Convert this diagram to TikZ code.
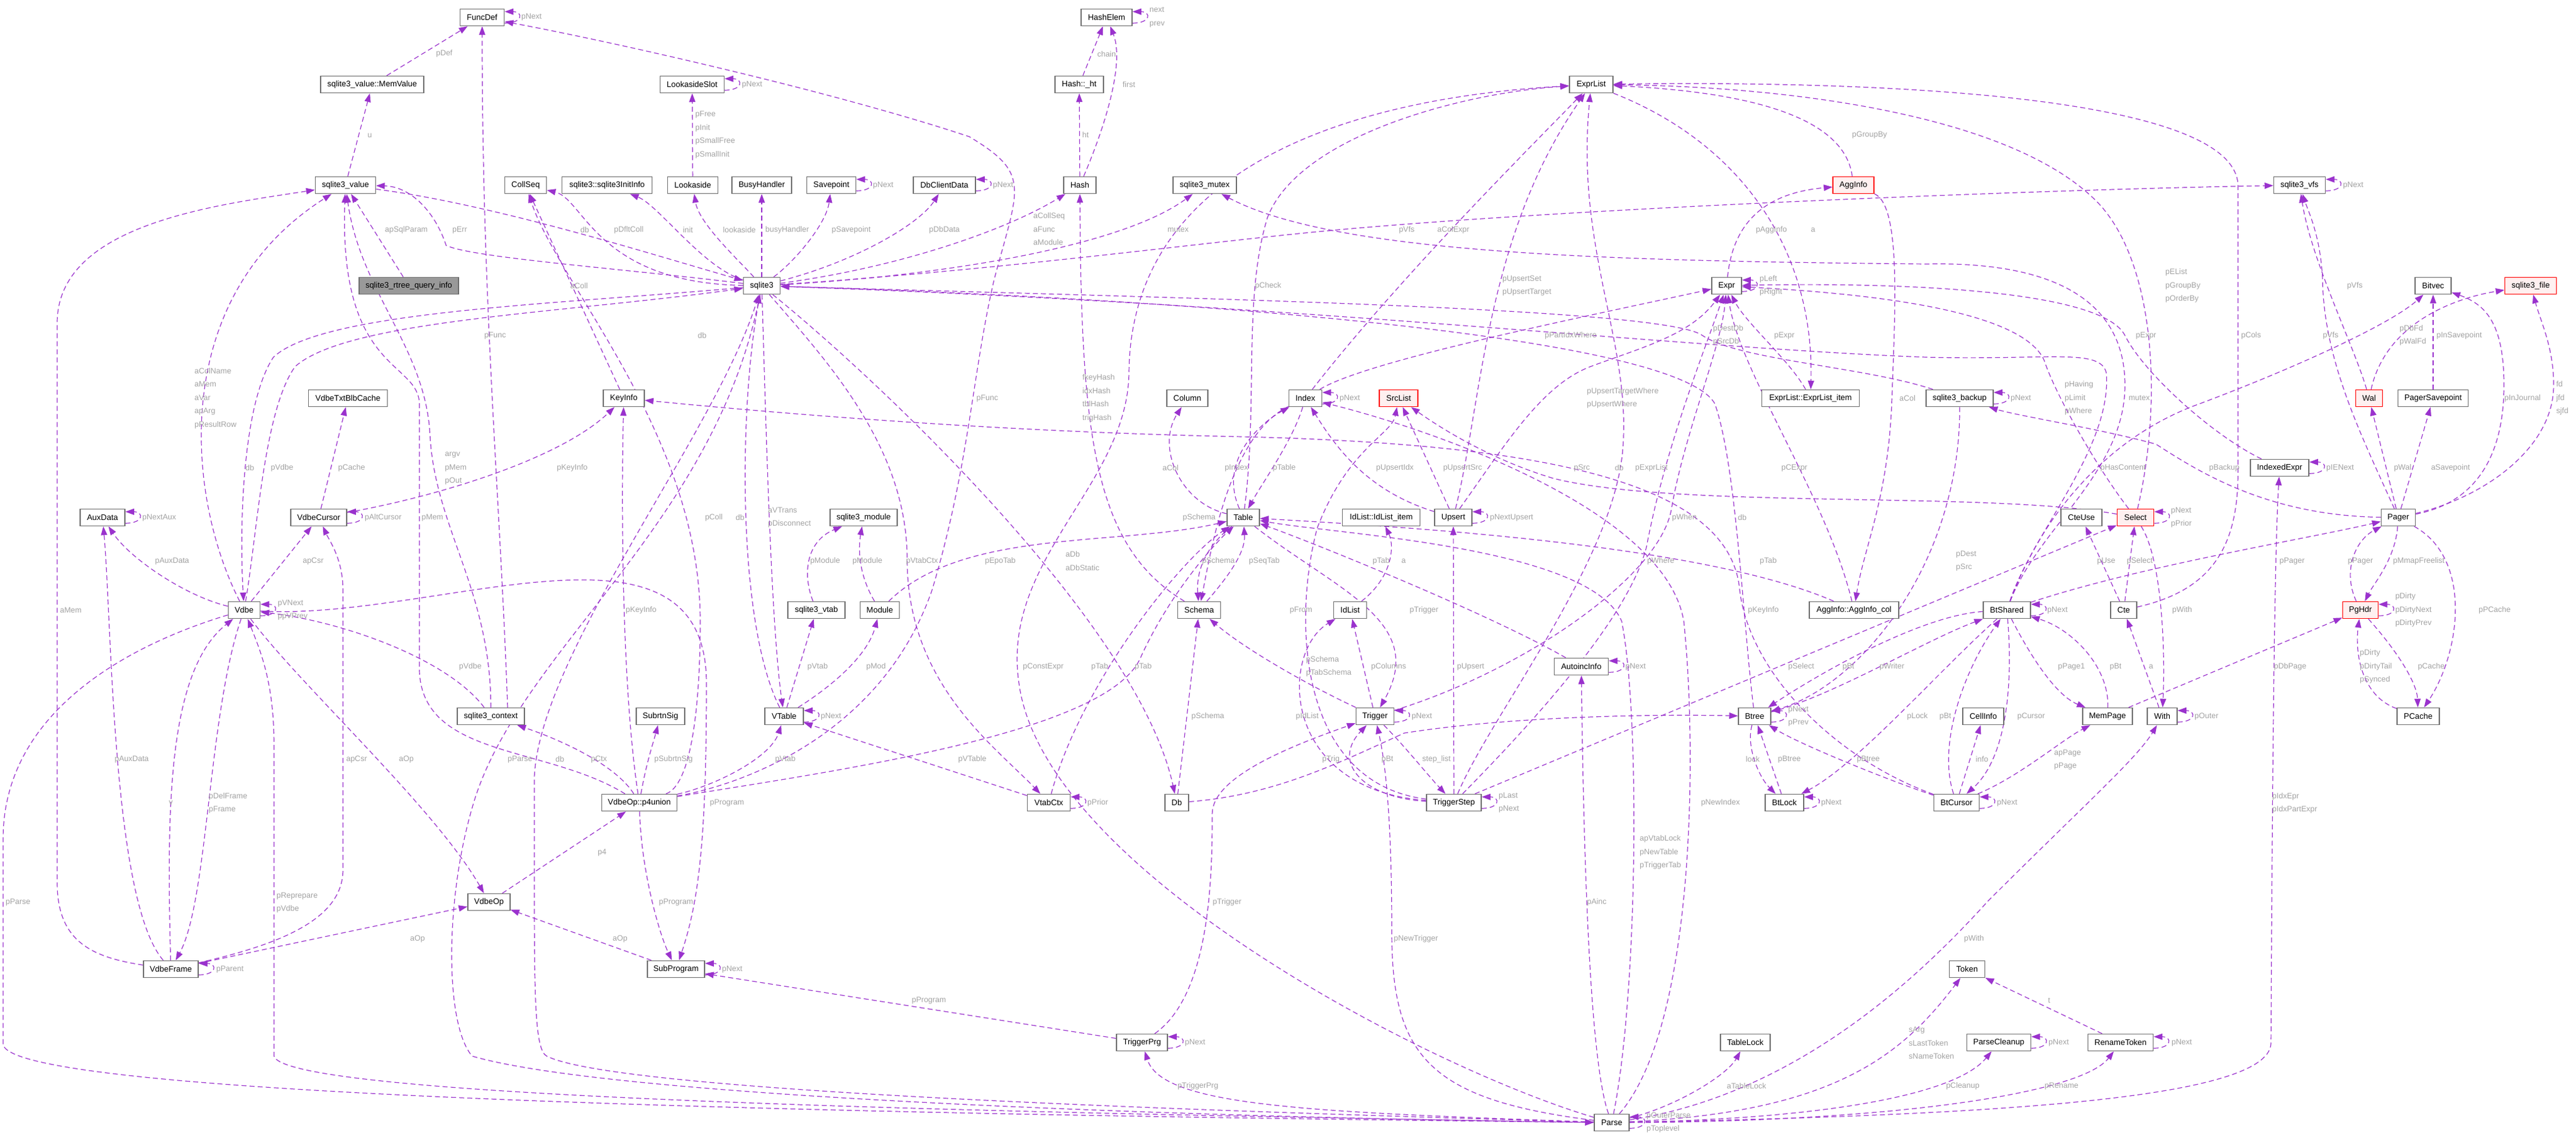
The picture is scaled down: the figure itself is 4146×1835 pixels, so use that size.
\documentclass[tikz,border=0pt]{standalone}
\usepackage{fontspec}
\setmainfont{Liberation Sans}
\usetikzlibrary{arrows.meta,calc}
\definecolor{edgec}{HTML}{9A32CD}
\definecolor{lblgray}{HTML}{A3A3A3}
\definecolor{boxgray}{HTML}{6E6E6E}
\definecolor{redfill}{HTML}{FFF0F0}
\definecolor{rootfill}{HTML}{999999}
\pgfdeclarelayer{bg}
\pgfdeclarelayer{edgelayer}
\pgfsetlayers{bg,edgelayer,main}
\tikzset{
 nbox/.style={draw=boxgray, line width=1.5pt, fill=white, minimum height=27pt, inner sep=0pt, font=\fontsize{13}{15}\selectfont, text=black},
 rbox/.style={nbox, draw=red, fill=redfill},
 cedge/.style={draw=edgec, line width=1.2pt, dash pattern=on 8pt off 5pt, -{Triangle[length=14pt,width=10pt]}},
 elbl/.style={text=lblgray, font=\fontsize{12.5}{21.5}\selectfont, inner sep=0pt, align=left},
}
\newcommand{\selfloop}[1]{\draw[cedge] ($(#1.south east)+(0,-5)$) .. controls +(30,0) and +(30,0) .. ($(#1.north east)+(0,5)$);}
\begin{document}
\begin{tikzpicture}[x=1pt,y=-1pt]
\useasboundingbox (0,0) rectangle (4146,1835);
\begin{pgfonlayer}{bg}\fill[white] (0,0) rectangle (4146,1835);\end{pgfonlayer}
% ---------------- nodes
\node[nbox, minimum width=71pt] (funcdef) at (776,28) {FuncDef};
\node[nbox, minimum width=166pt] (memvalue) at (599,136) {sqlite3\_value::MemValue};
\node[nbox, minimum width=97pt] (value) at (556,298) {sqlite3\_value};
\node[nbox, fill=rootfill, minimum width=160pt] (rtree) at (658,460) {sqlite3\_rtree\_query\_info};
\node[nbox, minimum width=67pt] (collseq) at (846,298) {CollSeq};
\node[nbox, minimum width=145pt] (initinfo) at (977,298) {sqlite3::sqlite3InitInfo};
\node[nbox, minimum width=82pt] (hashelem) at (1781,28) {HashElem};
\node[nbox, minimum width=103pt] (lookslot) at (1114,136) {LookasideSlot};
\node[nbox, minimum width=78pt] (ht) at (1737,136) {Hash::\_ht};
\node[nbox, minimum width=81pt] (lookaside) at (1115,298) {Lookaside};
\node[nbox, minimum width=96pt] (busy) at (1226,298) {BusyHandler};
\node[nbox, minimum width=79pt] (savepoint) at (1338,298) {Savepoint};
\node[nbox, minimum width=100pt] (dbclient) at (1520,298) {DbClientData};
\node[nbox, minimum width=52pt] (hash) at (1738,298) {Hash};
\node[nbox, minimum width=102pt] (mutex) at (1939,298) {sqlite3\_mutex};
\node[nbox, minimum width=59pt] (sqlite3) at (1226,460) {sqlite3};
\node[nbox, minimum width=70pt] (exprlist) at (2561,136) {ExprList};
\node[rbox, minimum width=66pt] (agginfo) at (2983,298) {AggInfo};
\node[nbox, minimum width=48pt] (expr) at (2779,460) {Expr};
\node[nbox, minimum width=83pt] (vfs) at (3701,298) {sqlite3\_vfs};
\node[nbox, minimum width=58pt] (bitvec) at (3916,460) {Bitvec};
\node[rbox, minimum width=83pt] (file) at (4073,460) {sqlite3\_file};
\node[nbox, minimum width=127pt] (txtblb) at (560,641) {VdbeTxtBlbCache};
\node[nbox, minimum width=66pt] (keyinfo) at (1004,641) {KeyInfo};
\node[nbox, minimum width=72pt] (auxdata) at (165,833) {AuxData};
\node[nbox, minimum width=90pt] (cursor) at (513,833) {VdbeCursor};
\node[nbox, minimum width=51pt] (vdbe) at (393,982) {Vdbe};
\node[nbox, minimum width=108pt] (context) at (790,1153) {sqlite3\_context};
\node[nbox, minimum width=66pt] (column) at (1911,641) {Column};
\node[nbox, minimum width=108pt] (module3) at (1390,833) {sqlite3\_module};
\node[nbox, minimum width=52pt] (table) at (2001,833) {Table};
\node[nbox, minimum width=92pt] (vtab) at (1314,982) {sqlite3\_vtab};
\node[nbox, minimum width=63pt] (module) at (1416,982) {Module};
\node[nbox, minimum width=69pt] (schema) at (1930,982) {Schema};
\node[nbox, minimum width=78pt] (subrtn) at (1063,1153) {SubrtnSig};
\node[nbox, minimum width=62pt] (vtable) at (1262,1153) {VTable};
\node[nbox, minimum width=53pt] (index) at (2101,641) {Index};
\node[rbox, minimum width=62pt] (srclist) at (2251,641) {SrcList};
\node[nbox, minimum width=157pt] (eitem) at (2914,641) {ExprList::ExprList\_item};
\node[nbox, minimum width=125pt] (iditem) at (2223,833) {IdList::IdList\_item};
\node[nbox, minimum width=60pt] (upsert) at (2339,833) {Upsert};
\node[nbox, minimum width=53pt] (idlist) at (2173,982) {IdList};
\node[nbox, minimum width=144pt] (aggcol) at (2984,982) {AggInfo::AggInfo\_col};
\node[nbox, minimum width=87pt] (autoinc) at (2545,1073) {AutoincInfo};
\node[nbox, minimum width=61pt] (trigger) at (2213,1153) {Trigger};
\node[nbox, minimum width=52pt] (btree) at (2824,1153) {Btree};
\node[nbox, minimum width=108pt] (backup) at (3154,641) {sqlite3\_backup};
\node[rbox, minimum width=43pt] (wal) at (3813,641) {Wal};
\node[nbox, minimum width=113pt] (pagersp) at (3916,641) {PagerSavepoint};
\node[nbox, minimum width=94pt] (idxexpr) at (3669,753) {IndexedExpr};
\node[nbox, minimum width=66pt] (cteuse) at (3350,833) {CteUse};
\node[rbox, minimum width=59pt] (select) at (3437,833) {Select};
\node[nbox, minimum width=55pt] (pager) at (3860,833) {Pager};
\node[nbox, minimum width=76pt] (btshared) at (3230,982) {BtShared};
\node[nbox, minimum width=42pt] (cte) at (3418,982) {Cte};
\node[rbox, minimum width=57pt] (pghdr) at (3799,982) {PgHdr};
\node[nbox, minimum width=66pt] (cellinfo) at (3192,1153) {CellInfo};
\node[nbox, minimum width=80pt] (mempage) at (3392,1153) {MemPage};
\node[nbox, minimum width=48pt] (with) at (3480,1153) {With};
\node[nbox, minimum width=68pt] (pcache) at (3892,1153) {PCache};
\node[nbox, minimum width=88pt] (vdbeframe) at (275,1560) {VdbeFrame};
\node[nbox, minimum width=68pt] (vdbeop) at (787,1452) {VdbeOp};
\node[nbox, minimum width=121pt] (p4union) at (1029,1292) {VdbeOp::p4union};
\node[nbox, minimum width=92pt] (subprog) at (1088,1560) {SubProgram};
\node[nbox, minimum width=69pt] (vtabctx) at (1688,1292) {VtabCtx};
\node[nbox, minimum width=38pt] (db) at (1894,1292) {Db};
\node[nbox, minimum width=82pt] (trigprg) at (1838,1678) {TriggerPrg};
\node[nbox, minimum width=88pt] (trigstep) at (2340,1292) {TriggerStep};
\node[nbox, minimum width=62pt] (btlock) at (2872,1292) {BtLock};
\node[nbox, minimum width=80pt] (tablelock) at (2809,1678) {TableLock};
\node[nbox, minimum width=56pt] (parse) at (2594,1807) {Parse};
\node[nbox, minimum width=73pt] (btcursor) at (3149,1292) {BtCursor};
\node[nbox, minimum width=57pt] (token) at (3166,1560) {Token};
\node[nbox, minimum width=103pt] (cleanup) at (3217,1678) {ParseCleanup};
\node[nbox, minimum width=105pt] (rename) at (3413,1678) {RenameToken};
% ---------------- edges
\begin{pgfonlayer}{edgelayer}
\draw[cedge] (memvalue) -- (funcdef);
\draw[cedge] (value) -- (memvalue);
\selfloop{funcdef}
\draw[cedge] ([xshift=27pt]context.north) .. controls (805,800) and (776,500) .. (funcdef);
\draw[cedge] (p4union) .. controls (1200,1262) and (1420,1180) .. (1500,950) .. controls (1560,750) and (1565,600) .. (1600,450) .. controls (1640,300) and (1660,280) .. (1560,220) .. controls (1350,150) and (1000,70) .. (funcdef);
\draw[cedge] (vdbeframe) .. controls (140,1540) and (92,1510) .. (92,1420) -- (92,520) .. controls (92,360) and (350,330) .. (value);
\draw[cedge] (vdbe) .. controls (300,800) and (270,480) .. (value);
\draw[cedge] (rtree) -- (value);
\draw[cedge] (sqlite3) .. controls (1000,432) and (760,415) .. (718,395) .. controls (700,340) and (660,300) .. (value);
\draw[cedge] (value) .. controls (800,330) and (1050,410) .. (sqlite3);
\draw[cedge] (sqlite3) .. controls (960,455) and (940,320) .. (collseq);
\draw[cedge] (keyinfo) -- (collseq);
\draw[cedge] (p4union) .. controls (1110,1265) and (1127,1150) .. (1127,1000) .. controls (1127,700) and (900,460) .. (collseq);
\draw[cedge] (sqlite3) .. controls (1130,430) and (1060,330) .. (initinfo);
\draw[cedge] (lookaside) -- (lookslot);
\selfloop{lookslot}
\draw[cedge] (sqlite3) .. controls (1190,420) and (1125,360) .. (lookaside);
\draw[cedge] (sqlite3) -- (busy);
\draw[cedge] (sqlite3) .. controls (1280,420) and (1330,360) .. (savepoint);
\selfloop{savepoint}
\draw[cedge] (sqlite3) .. controls (1380,420) and (1480,360) .. (dbclient);
\selfloop{dbclient}
\draw[cedge] (sqlite3) .. controls (1450,430) and (1620,370) .. (hash);
\draw[cedge] (hash) -- (ht);
\draw[cedge] (hash) .. controls (1780,200) and (1810,100) .. (hashelem);
\draw[cedge] (ht) -- (hashelem);
\selfloop{hashelem}
\draw[cedge] (sqlite3) .. controls (1500,445) and (1800,400) .. (mutex);
\draw[cedge] (btshared) .. controls (3280,850) and (3420,760) .. (3420,620) .. controls (3420,500) and (3330,420) .. (3100,425) .. controls (2600,420) and (2150,410) .. (mutex);
\draw[cedge] (btshared) .. controls (3270,860) and (3400,720) .. (3390,600) .. controls (3380,560) and (3300,580) .. (3100,575) .. controls (2700,560) and (2100,490) .. (sqlite3);
\draw[cedge] (sqlite3) .. controls (1600,435) and (1900,395) .. (2100,375) .. controls (2500,335) and (3300,305) .. (vfs);
\draw[cedge] (index) .. controls (2250,450) and (2450,250) .. (exprlist);
\draw[cedge] (agginfo) .. controls (2970,200) and (2850,150) .. (exprlist);
\draw[cedge] (expr) .. controls (2790,350) and (2850,310) .. (agginfo);
\draw[cedge] (exprlist) .. controls (2800,230) and (2920,400) .. (eitem);
\draw[cedge] (table) .. controls (2025,650) and (2000,480) .. (2040,350) .. controls (2090,220) and (2350,150) .. (exprlist);
\draw[cedge] (upsert) .. controls (2385,650) and (2390,380) .. (exprlist);
\selfloop{expr}
\draw[cedge] (index) .. controls (2200,580) and (2550,510) .. (expr);
\draw[cedge] (backup) .. controls (3000,590) and (2800,580) .. (2740,540) .. controls (2680,495) and (1900,480) .. (sqlite3);
\draw[cedge] (eitem) .. controls (2880,580) and (2810,520) .. (expr);
\selfloop{vfs}
\draw[cedge] (select) .. controls (3480,650) and (3470,430) .. (3380,330) .. controls (3250,190) and (2900,140) .. (exprlist);
\draw[cedge] (idxexpr) .. controls (3560,700) and (3450,600) .. (3420,540) .. controls (3380,460) and (3000,455) .. (expr);
\draw[cedge] (cte) .. controls (3560,950) and (3602,880) .. (3602,760) -- (3602,300) .. controls (3602,150) and (3000,130) .. (exprlist);
\draw[cedge] (pager) .. controls (3800,700) and (3740,580) .. (3738,450) .. controls (3735,380) and (3715,340) .. (vfs);
\draw[cedge] (wal) .. controls (3790,560) and (3720,420) .. (vfs);
\draw[cedge] (wal) .. controls (3840,520) and (3950,480) .. (file);
\draw[cedge] (pagersp) -- (bitvec);
\draw[cedge] (select) .. controls (3380,760) and (3310,640) .. (3290,580) .. controls (3250,490) and (2950,470) .. (expr);
\draw[cedge] (pager) .. controls (4000,800) and (4110,720) .. (4110,620) .. controls (4110,560) and (4090,520) .. (file);
\draw[cedge] (sqlite3) .. controls (900,490) and (520,500) .. (440,575) .. controls (390,650) and (385,850) .. (vdbe);
\draw[cedge] (vdbe) .. controls (415,850) and (425,660) .. (475,590) .. controls (560,515) and (900,505) .. (sqlite3);
\draw[cedge] (cursor) -- (txtblb);
\draw[cedge] (context) .. controls (790,950) and (700,850) .. (692,700) .. controls (685,560) and (580,470) .. (value);
\draw[cedge] (cursor) .. controls (700,800) and (900,740) .. (keyinfo);
\selfloop{auxdata}
\selfloop{cursor}
\draw[cedge] (p4union) .. controls (880,1200) and (680,1220) .. (675,1080) -- (675,650) .. controls (673,580) and (545,600) .. (value);
\draw[cedge] (vdbe) .. controls (300,960) and (210,900) .. (auxdata);
\draw[cedge] (vdbe) -- (cursor);
\selfloop{vdbe}
\draw[cedge] (p4union) .. controls (1000,1100) and (1000,800) .. (keyinfo);
\draw[cedge] (context) .. controls (720,1060) and (550,1000) .. (vdbe);
\draw[cedge] (table) .. controls (1900,810) and (1860,720) .. (column);
\draw[cedge] (table) .. controls (1960,740) and (2030,680) .. (index);
\draw[cedge] (vtable) .. controls (1185,1000) and (1190,650) .. (sqlite3);
\draw[cedge] (sqlite3) .. controls (1232,650) and (1240,1000) .. (vtable);
\draw[cedge] (table) .. controls (1940,880) and (1925,920) .. (schema);
\draw[cedge] (vtab) .. controls (1290,920) and (1300,870) .. (module3);
\draw[cedge] (module) .. controls (1385,930) and (1380,890) .. (module3);
\draw[cedge] (sqlite3) .. controls (1330,580) and (1460,720) .. (1460,900) .. controls (1460,1100) and (1600,1200) .. (vtabctx);
\draw[cedge] (module) .. controls (1550,850) and (1800,880) .. (table);
\draw[cedge] (sqlite3) .. controls (1400,600) and (1830,1000) .. (db);
\draw[cedge] (index) .. controls (1980,700) and (1950,880) .. (schema);
\draw[cedge] (schema) .. controls (1975,930) and (2005,890) .. (table);
\draw[cedge] (vtable) -- (vtab);
\draw[cedge] (vtable) .. controls (1330,1110) and (1395,1060) .. (module);
\draw[cedge] (parse) .. controls (2300,1720) and (1680,1400) .. (1640,1100) .. controls (1610,900) and (1815,780) .. (1817,600) .. controls (1820,280) and (2150,160) .. (exprlist);
\draw[cedge] (vtabctx) .. controls (1740,1100) and (1900,900) .. (table);
\draw[cedge] (p4union) .. controls (1350,1240) and (1780,1180) .. (1835,1060) .. controls (1880,960) and (1950,880) .. (table);
\selfloop{vtable}
\draw[cedge] (db) -- (schema);
\draw[cedge] (schema) .. controls (1760,880) and (1740,700) .. (hash);
\selfloop{index}
\draw[cedge] (index) .. controls (2080,710) and (2030,780) .. (table);
\draw[cedge] (upsert) .. controls (2200,790) and (2150,720) .. (index);
\draw[cedge] (upsert) -- (srclist);
\draw[cedge] (select) .. controls (3200,790) and (2700,820) .. (2500,770) .. controls (2400,740) and (2320,690) .. (srclist);
\draw[cedge] (parse) .. controls (2000,1790) and (1000,1760) .. (880,1700) .. controls (860,1690) and (860,1600) .. (860,1400) -- (860,1250) .. controls (870,1050) and (1150,700) .. (sqlite3);
\draw[cedge] (sqlite3) .. controls (1150,850) and (830,1050) .. (760,1300) .. controls (716,1450) and (716,1650) .. (760,1700) .. controls (1000,1770) and (2000,1800) .. (parse);
\draw[cedge] (trigstep) .. controls (2400,1150) and (2600,900) .. (2612,720) .. controls (2625,550) and (2535,400) .. (exprlist);
\draw[cedge] (aggcol) .. controls (2940,800) and (2800,600) .. (expr);
\draw[cedge] (upsert) .. controls (2420,720) and (2480,620) .. (2560,590) .. controls (2640,560) and (2720,540) .. (expr);
\selfloop{upsert}
\draw[cedge] (trigger) .. controls (2450,1080) and (2670,930) .. (2690,820) .. controls (2710,700) and (2770,560) .. (expr);
\draw[cedge] (btree) .. controls (2805,1000) and (2795,750) .. (2760,650) .. controls (2700,540) and (1900,480) .. (sqlite3);
\draw[cedge] (autoinc) .. controls (2400,990) and (2130,880) .. (table);
\draw[cedge] (idlist) .. controls (2240,930) and (2245,880) .. (iditem);
\draw[cedge] (trigstep) .. controls (2450,1180) and (2620,1000) .. (2650,880) .. controls (2680,720) and (2745,560) .. (expr);
\draw[cedge] (aggcol) .. controls (2750,880) and (2300,850) .. (table);
\draw[cedge] (trigstep) .. controls (2090,1260) and (2080,1000) .. (2120,850) .. controls (2170,720) and (2240,700) .. (srclist);
\draw[cedge] (table) .. controls (2150,950) and (2300,1000) .. (trigger);
\draw[cedge] (btcursor) .. controls (2950,1220) and (2815,1080) .. (2800,950) .. controls (2785,780) and (2500,715) .. (2000,703) .. controls (1600,695) and (1250,665) .. (keyinfo);
\draw[cedge] (trigger) .. controls (2120,1110) and (2010,1050) .. (schema);
\draw[cedge] (trigger) -- (idlist);
\draw[cedge] (trigstep) -- (upsert);
\selfloop{autoinc}
\draw[cedge] (trigstep) -- (select);
\draw[cedge] (btree) .. controls (2950,1120) and (3100,1030) .. (btshared);
\draw[cedge] (btshared) .. controls (3100,990) and (2950,1070) .. (btree);
\draw[cedge] (trigstep) .. controls (2060,1270) and (2060,1050) .. (idlist);
\selfloop{trigger}
\selfloop{btree}
\draw[cedge] (agginfo) .. controls (3060,330) and (3050,500) .. (3045,640) .. controls (3040,800) and (3000,880) .. (aggcol);
\selfloop{backup}
\draw[cedge] (btshared) .. controls (3290,820) and (3400,700) .. (3540,650) .. controls (3700,590) and (3850,520) .. (bitvec);
\draw[cedge] (pager) .. controls (3650,830) and (3540,760) .. (3470,715) .. controls (3380,690) and (3250,670) .. (backup);
\selfloop{idxexpr}
\draw[cedge] (pager) -- (wal);
\draw[cedge] (pager) -- (pagersp);
\draw[cedge] (pager) .. controls (3980,810) and (4030,740) .. (4030,620) .. controls (4030,520) and (4000,490) .. (bitvec);
\selfloop{select}
\draw[cedge] (backup) .. controls (3155,900) and (3000,1100) .. (btree);
\draw[cedge] (cte) -- (cteuse);
\draw[cedge] (cte) -- (select);
\draw[cedge] (btshared) .. controls (3450,910) and (3700,870) .. (pager);
\draw[cedge] (pghdr) .. controls (3770,920) and (3790,870) .. (pager);
\draw[cedge] (pager) .. controls (3855,900) and (3820,940) .. (pghdr);
\selfloop{btshared}
\draw[cedge] (select) .. controls (3480,900) and (3485,1050) .. (with);
\selfloop{pghdr}
\draw[cedge] (pager) .. controls (3980,900) and (3960,1050) .. (pcache);
\draw[cedge] (pcache) .. controls (3800,1120) and (3790,1050) .. (pghdr);
\draw[cedge] (btshared) .. controls (3270,1060) and (3310,1120) .. (mempage);
\draw[cedge] (mempage) .. controls (3395,1070) and (3330,1010) .. (btshared);
\draw[cedge] (with) -- (cte);
\draw[cedge] (mempage) -- (pghdr);
\draw[cedge] (pghdr) .. controls (3860,1050) and (3890,1100) .. (pcache);
\draw[cedge] (btshared) .. controls (3120,1080) and (2990,1230) .. (btlock);
\draw[cedge] (btcursor) .. controls (3118,1200) and (3160,1080) .. (btshared);
\draw[cedge] (btshared) .. controls (3240,1100) and (3230,1220) .. (btcursor);
\selfloop{with}
\draw[cedge] (btcursor) .. controls (3250,1250) and (3320,1190) .. (mempage);
\draw[cedge] (vdbeframe) .. controls (268,1300) and (270,1080) .. (vdbe);
\draw[cedge] (vdbeframe) .. controls (180,1450) and (180,1000) .. (auxdata);
\draw[cedge] (vdbe) .. controls (335,1150) and (335,1450) .. (vdbeframe);
\draw[cedge] (vdbe) .. controls (200,1040) and (5,1150) .. (5,1350) -- (5,1680) .. controls (5,1770) and (1500,1795) .. (parse);
\draw[cedge] (vdbeframe) .. controls (450,1520) and (552,1480) .. (552,1400) -- (552,950) .. controls (552,900) and (530,870) .. (cursor);
\draw[cedge] (vdbe) .. controls (480,1100) and (700,1300) .. (vdbeop);
\draw[cedge] (parse) .. controls (1500,1790) and (460,1765) .. (441,1700) -- (441,1200) .. controls (441,1100) and (420,1050) .. (vdbe);
\draw[cedge] (vdbeframe) -- (vdbeop);
\selfloop{vdbeframe}
\draw[cedge] (p4union) .. controls (990,1230) and (900,1190) .. (context);
\draw[cedge] (vdbeop) -- (p4union);
\draw[cedge] (subprog) -- (vdbeop);
\draw[cedge] (p4union) .. controls (1040,1230) and (1050,1200) .. (subrtn);
\draw[cedge] (p4union) .. controls (1150,1265) and (1240,1220) .. (vtable);
\draw[cedge] (vtabctx) -- (vtable);
\draw[cedge] (vdbe) .. controls (700,1000) and (1137,800) .. (1137,1100) .. controls (1137,1350) and (1125,1450) .. (subprog);
\draw[cedge] (p4union) .. controls (1032,1400) and (1060,1500) .. (subprog);
\selfloop{vtabctx}
\draw[cedge] (trigprg) .. controls (1950,1600) and (1951,1400) .. (1951,1310) .. controls (1951,1250) and (2080,1200) .. (trigger);
\selfloop{subprog}
\draw[cedge] (trigprg) -- (subprog);
\selfloop{trigprg}
\draw[cedge] (parse) .. controls (2100,1790) and (1870,1780) .. (trigprg);
\draw[cedge] (trigstep) .. controls (2200,1285) and (2140,1230) .. (trigger);
\draw[cedge] (db) .. controls (2050,1280) and (2150,1230) .. (2260,1180) .. controls (2450,1150) and (2700,1150) .. (btree);
\draw[cedge] (trigger) .. controls (2260,1200) and (2300,1250) .. (trigstep);
\selfloop{trigstep}
\draw[cedge] (btree) .. controls (2810,1200) and (2830,1250) .. (btlock);
\draw[cedge] (btlock) -- (btree);
\draw[cedge] (btcursor) .. controls (3050,1260) and (2900,1200) .. (btree);
\draw[cedge] (parse) .. controls (2730,1650) and (2731,1200) .. (2710,1000) .. controls (2680,820) and (2300,690) .. (index);
\selfloop{btlock}
\draw[cedge] (parse) .. controls (2636,1600) and (2640,1150) .. (2610,1000) .. controls (2560,880) and (2150,860) .. (table);
\draw[cedge] (parse) .. controls (2555,1700) and (2548,1300) .. (autoinc);
\draw[cedge] (parse) .. controls (2300,1770) and (2240,1700) .. (2240,1500) .. controls (2240,1300) and (2228,1220) .. (trigger);
\draw[cedge] (parse) .. controls (2700,1780) and (2780,1730) .. (tablelock);
\selfloop{parse}
\draw[cedge] (btcursor) -- (cellinfo);
\selfloop{btcursor}
\draw[cedge] (parse) .. controls (3200,1795) and (3650,1770) .. (3655,1680) .. controls (3657,1300) and (3660,900) .. (idxexpr);
\draw[cedge] (parse) .. controls (2900,1760) and (3100,1560) .. (3200,1450) .. controls (3350,1300) and (3440,1220) .. (with);
\draw[cedge] (rename) -- (token);
\draw[cedge] (parse) .. controls (2950,1790) and (3060,1700) .. (token);
\selfloop{cleanup}
\selfloop{rename}
\draw[cedge] (parse) .. controls (2950,1800) and (3150,1760) .. (cleanup);
\draw[cedge] (parse) .. controls (3050,1805) and (3350,1760) .. (rename);
\end{pgfonlayer}
% ---------------- loop labels
\node[elbl, anchor=west] (k1) at (839,28) {pNext};
\node[elbl, anchor=west] (k2) at (1194,136) {pNext};
\node[elbl, anchor=west] (k3) at (1405,298) {pNext};
\node[elbl, anchor=west] (k4) at (1598,298) {pNext};
\node[elbl, anchor=west] (k5) at (1850,28) {next\\prev};
\node[elbl, anchor=west] (k6) at (3771,298) {pNext};
\node[elbl, anchor=west] (k7) at (2832,460) {pLeft\\pRight};
\node[elbl, anchor=west] (k8) at (229,833) {pNextAux};
\node[elbl, anchor=west] (k9) at (587,833) {pAltCursor};
\node[elbl, anchor=west] (k10) at (447,982) {pVNext\\ppVPrev};
\node[elbl, anchor=west] (k11) at (1321,1153) {pNext};
\node[elbl, anchor=west] (k12) at (2156,641) {pNext};
\node[elbl, anchor=west] (k13) at (2398,833) {pNextUpsert};
\node[elbl, anchor=west] (k14) at (2616,1073) {pNext};
\node[elbl, anchor=west] (k15) at (2272,1153) {pNext};
\node[elbl, anchor=west] (k16) at (2878,1153) {pNext\\pPrev};
\node[elbl, anchor=west] (k17) at (3236,641) {pNext};
\node[elbl, anchor=west] (k18) at (3744,753) {pIENext};
\node[elbl, anchor=west] (k19) at (3494,833) {pNext\\pPrior};
\node[elbl, anchor=west] (k20) at (3295,982) {pNext};
\node[elbl, anchor=west] (k21) at (3855,982) {pDirty\\pDirtyNext\\pDirtyPrev};
\node[elbl, anchor=west] (k22) at (3532,1153) {pOuter};
\node[elbl, anchor=west] (k23) at (348,1560) {pParent};
\node[elbl, anchor=west] (k24) at (1162,1560) {pNext};
\node[elbl, anchor=west] (k25) at (1750,1292) {pPrior};
\node[elbl, anchor=west] (k26) at (1907,1678) {pNext};
\node[elbl, anchor=west] (k27) at (2412,1292) {pLast\\pNext};
\node[elbl, anchor=west] (k28) at (2931,1292) {pNext};
\node[elbl, anchor=west] (k29) at (2650,1807) {pOuterParse\\pToplevel};
\node[elbl, anchor=west] (k30) at (3214,1292) {pNext};
\node[elbl, anchor=west] (k31) at (3297,1678) {pNext};
\node[elbl, anchor=west] (k32) at (3495,1678) {pNext};
% ---------------- grouped labels
\node[elbl, anchor=west] (g1) at (313,641) {aColName\\aMem\\aVar\\apArg\\pResultRow};
\node[elbl, anchor=west] (g2) at (1119,217) {pFree\\pInit\\pSmallFree\\pSmallInit};
\node[elbl, anchor=west] (g3) at (1663,369) {aCollSeq\\aFunc\\aModule};
\node[elbl, anchor=west] (g4) at (2418,460) {pUpsertSet\\pUpsertTarget};
\node[elbl, anchor=west] (g5) at (2757,540) {pDestDb\\pSrcDb};
\node[elbl, anchor=west] (g6) at (3485,460) {pEList\\pGroupBy\\pOrderBy};
\node[elbl, anchor=west] (g7) at (3862,540) {pDbFd\\pWalFd};
\node[elbl, anchor=west] (g8) at (3323,641) {pHaving\\pLimit\\pWhere};
\node[elbl, anchor=west] (g9) at (4114,641) {fd\\jfd\\sjfd};
\node[elbl, anchor=west] (g10) at (716,754) {argv\\pMem\\pOut};
\node[elbl, anchor=west] (g11) at (1742,641) {fkeyHash\\idxHash\\tblHash\\trigHash};
\node[elbl, anchor=west] (g12) at (1236,833) {aVTrans\\pDisconnect};
\node[elbl, anchor=west] (g13) at (1715,903) {aDb\\aDbStatic};
\node[elbl, anchor=west] (g14) at (2010,903) {pSeqTab};
\node[elbl, anchor=west] (g15) at (1007,982) {pKeyInfo};
\node[elbl, anchor=west] (g16) at (2554,641) {pUpsertTargetWhere\\pUpsertWhere};
\node[elbl, anchor=west] (g17) at (2102,1073) {pSchema\\pTabSchema};
\node[elbl, anchor=west] (g18) at (3148,903) {pDest\\pSrc};
\node[elbl, anchor=west] (g19) at (3798,1073) {pDirty\\pDirtyTail\\pSynced};
\node[elbl, anchor=west] (g20) at (336,1293) {pDelFrame\\pFrame};
\node[elbl, anchor=west] (g21) at (445,1453) {pReprepare\\pVdbe};
\node[elbl, anchor=west] (g22) at (2639,1372) {apVtabLock\\pNewTable\\pTriggerTab};
\node[elbl, anchor=west] (g23) at (3306,1223) {apPage\\pPage};
\node[elbl, anchor=west] (g24) at (3657,1293) {pIdxEpr\\pIdxPartExpr};
\node[elbl, anchor=west] (g25) at (3072,1679) {sArg\\sLastToken\\sNameToken};
% ---------------- single labels
\node[elbl] (s1) at (715,86) {pDef};
\node[elbl] (s2) at (595,218) {u};
\node[elbl] (s3) at (654,370) {apSqlParam};
\node[elbl] (s4) at (740,370) {pErr};
\node[elbl] (s5) at (941,370) {db};
\node[elbl] (s6) at (1012,370) {pDfltColl};
\node[elbl] (s7) at (932,460) {aColl};
\node[elbl] (s8) at (797,540) {pFunc};
\node[elbl] (s9) at (1781,87) {chain};
\node[elbl] (s10) at (1817,136) {first};
\node[elbl] (s11) at (1747,217) {ht};
\node[elbl] (s12) at (1107,370) {init};
\node[elbl] (s13) at (1190,370) {lookaside};
\node[elbl] (s14) at (1267,370) {busyHandler};
\node[elbl] (s15) at (1370,370) {pSavepoint};
\node[elbl] (s16) at (1520,370) {pDbData};
\node[elbl] (s17) at (1896,370) {mutex};
\node[elbl] (s18) at (1130,540) {db};
\node[elbl] (s19) at (3009,217) {pGroupBy};
\node[elbl] (s20) at (2264,370) {pVfs};
\node[elbl] (s21) at (2339,370) {aColExpr};
\node[elbl] (s22) at (2851,370) {pAggInfo};
\node[elbl] (s23) at (2918,370) {a};
\node[elbl] (s24) at (2041,460) {pCheck};
\node[elbl] (s25) at (2528,540) {pPartIdxWhere};
\node[elbl] (s26) at (2872,540) {pExpr};
\node[elbl] (s27) at (3454,540) {pExpr};
\node[elbl] (s28) at (3623,540) {pCols};
\node[elbl] (s29) at (3790,460) {pVfs};
\node[elbl] (s30) at (3751,540) {pVfs};
\node[elbl] (s31) at (3958,540) {pInSavepoint};
\node[elbl] (s32) at (402,753) {db};
\node[elbl] (s33) at (454,753) {pVdbe};
\node[elbl] (s34) at (566,753) {pCache};
\node[elbl] (s35) at (921,753) {pKeyInfo};
\node[elbl] (s36) at (696,833) {pMem};
\node[elbl] (s37) at (277,903) {pAuxData};
\node[elbl] (s38) at (504,903) {apCsr};
\node[elbl] (s39) at (114,982) {aMem};
\node[elbl] (s40) at (757,1073) {pVdbe};
\node[elbl] (s41) at (1589,641) {pFunc};
\node[elbl] (s42) at (1884,753) {aCol};
\node[elbl] (s43) at (1990,753) {pIndex};
\node[elbl] (s44) at (1149,833) {pColl};
\node[elbl] (s45) at (1191,833) {db};
\node[elbl] (s46) at (1930,833) {pSchema};
\node[elbl] (s47) at (1328,903) {pModule};
\node[elbl] (s48) at (1396,903) {pModule};
\node[elbl] (s49) at (1484,903) {pVtabCtx};
\node[elbl] (s50) at (1610,903) {pEpoTab};
\node[elbl] (s51) at (1961,903) {pSchema};
\node[elbl] (s52) at (1316,1073) {pVtab};
\node[elbl] (s53) at (1410,1073) {pMod};
\node[elbl] (s54) at (1679,1073) {pConstExpr};
\node[elbl] (s55) at (1770,1073) {pTab};
\node[elbl] (s56) at (1840,1073) {pTab};
\node[elbl] (s57) at (1944,1153) {pSchema};
\node[elbl] (s58) at (2067,753) {pTable};
\node[elbl] (s59) at (2245,753) {pUpsertIdx};
\node[elbl] (s60) at (2354,753) {pUpsertSrc};
\node[elbl] (s61) at (2546,753) {pSrc};
\node[elbl] (s62) at (2606,753) {db};
\node[elbl] (s63) at (2658,753) {pExprList};
\node[elbl] (s64) at (2888,753) {pCExpr};
\node[elbl] (s65) at (2711,833) {pWhen};
\node[elbl] (s66) at (2804,833) {db};
\node[elbl] (s67) at (2223,903) {pTab};
\node[elbl] (s68) at (2259,903) {a};
\node[elbl] (s69) at (2673,903) {pWhere};
\node[elbl] (s70) at (2846,903) {pTab};
\node[elbl] (s71) at (2094,982) {pFrom};
\node[elbl] (s72) at (2292,982) {pTrigger};
\node[elbl] (s73) at (2838,982) {pKeyInfo};
\node[elbl] (s74) at (2235,1073) {pColumns};
\node[elbl] (s75) at (2367,1073) {pUpsert};
\node[elbl] (s76) at (2899,1073) {pSelect};
\node[elbl] (s77) at (2975,1073) {pBt};
\node[elbl] (s78) at (3045,1073) {pWriter};
\node[elbl] (s79) at (2104,1153) {pIdList};
\node[elbl] (s80) at (3070,641) {aCol};
\node[elbl] (s81) at (3443,641) {mutex};
\node[elbl] (s82) at (3417,753) {pHasContent};
\node[elbl] (s83) at (3580,753) {pBackup};
\node[elbl] (s84) at (3867,753) {pWal};
\node[elbl] (s85) at (3944,753) {aSavepoint};
\node[elbl] (s86) at (4060,641) {pInJournal};
\node[elbl] (s87) at (3390,903) {pUse};
\node[elbl] (s88) at (3444,903) {pSelect};
\node[elbl] (s89) at (3689,903) {pPager};
\node[elbl] (s90) at (3799,903) {pPager};
\node[elbl] (s91) at (3893,903) {pMmapFreelist};
\node[elbl] (s92) at (3512,982) {pWith};
\node[elbl] (s93) at (4015,982) {pPCache};
\node[elbl] (s94) at (3334,1073) {pPage1};
\node[elbl] (s95) at (3405,1073) {pBt};
\node[elbl] (s96) at (3462,1073) {a};
\node[elbl] (s97) at (3686,1073) {pDbPage};
\node[elbl] (s98) at (3913,1073) {pCache};
\node[elbl] (s99) at (3086,1153) {pLock};
\node[elbl] (s100) at (3131,1153) {pBt};
\node[elbl] (s101) at (3269,1153) {pCursor};
\node[elbl] (s102) at (212,1222) {pAuxData};
\node[elbl] (s103) at (275,1292) {v};
\node[elbl] (s104) at (29,1452) {pParse};
\node[elbl] (s105) at (574,1222) {apCsr};
\node[elbl] (s106) at (654,1222) {aOp};
\node[elbl] (s107) at (672,1511) {aOp};
\node[elbl] (s108) at (837,1222) {pParse};
\node[elbl] (s109) at (901,1222) {db};
\node[elbl] (s110) at (964,1222) {pCtx};
\node[elbl] (s111) at (969,1372) {p4};
\node[elbl] (s112) at (998,1511) {aOp};
\node[elbl] (s113) at (1084,1222) {pSubrtnSig};
\node[elbl] (s114) at (1264,1222) {pVtab};
\node[elbl] (s115) at (1565,1222) {pVTable};
\node[elbl] (s116) at (1170,1292) {pProgram};
\node[elbl] (s117) at (1088,1452) {pProgram};
\node[elbl] (s118) at (1975,1452) {pTrigger};
\node[elbl] (s119) at (1495,1610) {pProgram};
\node[elbl] (s120) at (1928,1748) {pTriggerPrg};
\node[elbl] (s121) at (2142,1222) {pTrig};
\node[elbl] (s122) at (2233,1222) {pBt};
\node[elbl] (s123) at (2312,1222) {step\_list};
\node[elbl] (s124) at (2821,1222) {lock};
\node[elbl] (s125) at (2880,1222) {pBtree};
\node[elbl] (s126) at (3007,1222) {pBtree};
\node[elbl] (s127) at (2769,1292) {pNewIndex};
\node[elbl] (s128) at (2570,1452) {pAinc};
\node[elbl] (s129) at (2279,1511) {pNewTrigger};
\node[elbl] (s130) at (2811,1748) {aTableLock};
\node[elbl] (s131) at (3190,1222) {info};
\node[elbl] (s132) at (3177,1511) {pWith};
\node[elbl] (s133) at (3298,1610) {t};
\node[elbl] (s134) at (3159,1748) {pCleanup};
\node[elbl] (s135) at (3318,1748) {pRename};
\end{tikzpicture}
\end{document}
